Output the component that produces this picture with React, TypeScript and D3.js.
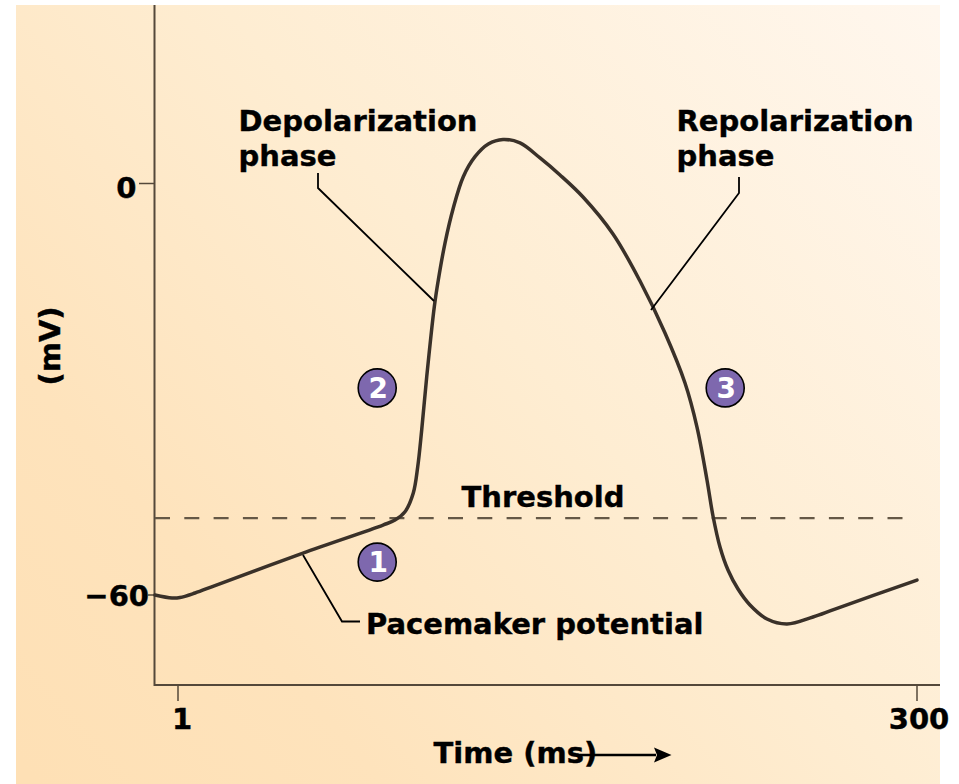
import React from "react";
import * as d3 from "d3";

const timeMs = [-8.31,-1.43,1.81,7.88,15.97,51.58,83.94,88.8,92.84,96.2,97.98,99.6,101.62,104.7,106.32,109.03,112.39,116.43,121.17,126.55,132.5,139.37,147.47,155.56,164.87,177,187.93,198.04,206.13,210.98,215.03,217.46,220.29,223.53,227.58,232.43,239.31,247.4,257.92,266.82,300];
const membraneMv = [-60,-60.44,-60.37,-59.71,-58.62,-53.88,-49.8,-49.07,-47.86,-45.13,-41.34,-35.94,-28.22,-17.96,-14.07,-8.68,-3.57,0.99,3.91,5.76,6.42,5.91,3.72,1.24,-1.97,-7.36,-14.22,-21.8,-29.09,-35.51,-43.23,-48.48,-53,-56.36,-59.13,-61.46,-63.5,-64.23,-63.21,-62.05,-57.82];
const thresholdMv = -48.8;
const yTicks = [{ v: 0, label: "0" }, { v: -60, label: "−60" }];
const xTicks = [1, 300];
const phases = [
  { n: "1", t: 81.6, v: -55.2 },
  { n: "2", t: 81.6, v: -29.8 },
  { n: "3", t: 222.4, v: -29.8 },
];

const x = d3.scaleLinear().domain([1, 300]).range([178, 917]);
const y = d3.scaleLinear().domain([0, -60]).range([183.5, 595]);
const line = d3.line<number>()
  .x((d) => x(timeMs[d]))
  .y((d) => y(membraneMv[d]))
  .curve(d3.curveCatmullRom.alpha(0.5));

const AXIS = "#54483a";
const FONT = "'DejaVu Sans', Verdana, sans-serif";
const txt = { fontFamily: FONT, fontWeight: 700, fontSize: 29, fill: "#000", stroke: "#000", strokeWidth: 0.4 } as const;

export default function App() {
  return (
    <svg width={959} height={784} style={{ position: "absolute", left: 0, top: 0 }}>
      <defs>
        <linearGradient id="bg" gradientUnits="userSpaceOnUse" x1={40} y1={784} x2={930} y2={5}>
          <stop offset="0" stopColor="#fee0b5" />
          <stop offset="0.22" stopColor="#fee3bc" />
          <stop offset="0.55" stopColor="#feedd2" />
          <stop offset="1" stopColor="#fff7ee" />
        </linearGradient>
      </defs>
      <rect x={16} y={5} width={924} height={779} fill="url(#bg)" />

      <path d="M154.5,5V685H940" fill="none" stroke={AXIS} strokeWidth={2} />
      {yTicks.map((t) => (
        <g key={t.v}>
          <line x1={t.v === 0 ? 139 : 148} x2={154} y1={y(t.v)} y2={y(t.v)} stroke={AXIS} strokeWidth={1.5} />
          <text {...txt} x={t.v === 0 ? 136.5 : 149} y={y(t.v) + (t.v === 0 ? 14 : 11)} textAnchor="end">{t.label}</text>
        </g>
      ))}
      {xTicks.map((t) => (
        <g key={t}>
          <line x1={x(t)} x2={x(t)} y1={685} y2={701} stroke={AXIS} strokeWidth={1.5} />
          <text {...txt} x={t === 1 ? x(t) + 4 : x(t) + 2} y={729} textAnchor="middle">{t}</text>
        </g>
      ))}

      <line x1={155} x2={905} y1={y(thresholdMv)} y2={y(thresholdMv)} stroke="#655846" strokeWidth={2.2} strokeDasharray="15 14.3" />

      <path d={line(d3.range(timeMs.length)) ?? ""} fill="none" stroke="#3a3129" strokeWidth={3.5} strokeLinecap="round" />

      <polyline points="318,173 318,188 434,301" fill="none" stroke="#000" strokeWidth={1.8} />
      <polyline points="739,177 739,193 651,310" fill="none" stroke="#000" strokeWidth={1.8} />
      <polyline points="303,555 342,621.5 360,621.5" fill="none" stroke="#000" strokeWidth={1.8} />

      <text {...txt} x={238.5} y={131}>Depolarization</text>
      <text {...txt} x={238.5} y={166}>phase</text>
      <text {...txt} x={676.5} y={131}>Repolarization</text>
      <text {...txt} x={676.5} y={166}>phase</text>
      <text {...txt} x={461.5} y={507}>Threshold</text>
      <text {...txt} x={366} y={634}>Pacemaker potential</text>
      <text {...txt} x={433.5} y={763}>Time (ms)</text>
      <text {...txt} transform="translate(60,346) rotate(-90)" textAnchor="middle">(mV)</text>

      <line x1={580} x2={656} y1={755} y2={755} stroke="#000" strokeWidth={2.4} />
      <path d="M654,747.5L671.5,755L654,762.5L657,755Z" fill="#000" />

      {phases.map((p) => (
        <g key={p.n}>
          <circle cx={x(p.t)} cy={y(p.v)} r={19} fill="#7e68ae" stroke="#000" strokeWidth={1.6} />
          <text x={x(p.t) + 1} y={y(p.v) + 10} textAnchor="middle" fontFamily={FONT} fontWeight={700} fontSize={28} fill="#fff">{p.n}</text>
        </g>
      ))}
    </svg>
  );
}
